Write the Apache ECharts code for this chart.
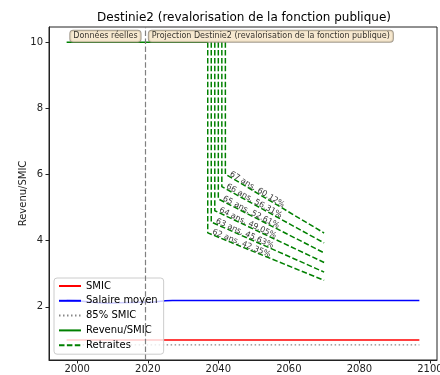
<!DOCTYPE html>
<html>
<head>
<meta charset="utf-8">
<script src="https://cdn.jsdelivr.net/npm/echarts@6/dist/echarts.min.js"></script>
<style>html,body{margin:0;padding:0;background:#fff}#c{width:440px;height:375px}</style>
</head>
<body>
<div id="c"></div>
<script>
// ---- data ----
const xTicks = [2000, 2020, 2040, 2060, 2080, 2100];
const yTicks = [2, 4, 6, 8, 10];
const smicYears = [1997, 2097];
const smicValues = [1, 1];
const smic85Years = [1997, 2097];
const smic85Values = [0.85, 0.85];
const salaireYears = [1997, 2000, 2003, 2006, 2009, 2012, 2015, 2018, 2021, 2023, 2025, 2027, 2097];
const salaireValues = [2.20, 2.18, 2.15, 2.12, 2.11, 2.12, 2.13, 2.14, 2.14, 2.16, 2.18, 2.19, 2.19];
const revenuYears = [1997, 2037];
const revenuValues = [10, 10];
const retAges = [62, 63, 64, 65, 66, 67];
const retYears = [2037, 2038, 2039, 2040, 2041, 2042];
const retPct = ['42.35', '45.63', '49.05', '52.61', '56.31', '60.12'];
const retTopValue = 10;
const retStartValues = [4.235, 4.563, 4.905, 5.261, 5.631, 6.012];
const retEndYear = 2070;
const retEndValues = [2.80, 3.05, 3.34, 3.63, 3.93, 4.23];
const realDataYear = 2019.4;
const boxLabels = ['Données réelles', 'Projection Destinie2 (revalorisation de la fonction publique)'];
const boxYears = [2008, 2054.9];
const boxValue = 10.18;

const FONT = 'DejaVu Sans';
const zip = (xs, ys) => xs.map((x, i) => [x, ys[i]]);

const chart = echarts.init(document.getElementById('c'), null, {renderer: 'canvas'});

function buildOption(rotations) {
  const series = [
    {name: 'SMIC', type: 'line', data: zip(smicYears, smicValues), showSymbol: false, symbol: 'none',
     lineStyle: {color: '#ff0000', width: 1.5}, itemStyle: {color: '#ff0000'}, z: 3},
    {name: 'Salaire moyen', type: 'line', data: zip(salaireYears, salaireValues), showSymbol: false, symbol: 'none',
     lineStyle: {color: '#0000ff', width: 1.5}, itemStyle: {color: '#0000ff'}, z: 3},
    {name: '85% SMIC', type: 'line', data: zip(smic85Years, smic85Values), showSymbol: false, symbol: 'none',
     lineStyle: {color: '#888888', width: 1.2, type: [1.5, 2.5]}, itemStyle: {color: '#888888'}, z: 3},
    {name: 'Revenu/SMIC', type: 'line', data: zip(revenuYears, revenuValues), showSymbol: false, symbol: 'none',
     lineStyle: {color: '#008000', width: 1.5}, itemStyle: {color: '#008000'}, z: 3,
     markLine: {silent: true, symbol: 'none', label: {show: false},
       lineStyle: {color: '#808080', width: 1.2, type: [5.5, 2.4]},
       data: [{xAxis: realDataYear}]}}
  ];
  retAges.forEach((age, i) => {
    series.push({name: 'Retraites', type: 'line', showSymbol: false, symbol: 'none',
      data: [[retYears[i], retTopValue], [retYears[i], retStartValues[i]], [retEndYear, retEndValues[i]]],
      lineStyle: {color: '#008000', width: 1.5, type: [5.5, 2.4]}, itemStyle: {color: '#008000'}, z: 3});
  });
  series.push({name: 'retLabels', type: 'scatter', symbolSize: 0, silent: true, z: 5,
    data: retAges.map((age, i) => ({
      value: [retYears[i], retStartValues[i]],
      label: {show: true, formatter: age + ' ans, ' + retPct[i] + '%', rotate: rotations[i] || 0,
        position: 'inside', align: 'left', verticalAlign: 'bottom', offset: [4, 1],
        fontFamily: FONT, fontSize: 8, color: '#000'}
    }))});
  series.push({name: 'boxes', type: 'scatter', symbolSize: 0, silent: true, z: 6,
    data: boxLabels.map((t, i) => ({
      value: [boxYears[i], boxValue],
      label: {show: true, formatter: t, position: 'inside', align: 'center', verticalAlign: 'middle',
        fontFamily: FONT, fontSize: 8, color: '#000', backgroundColor: '#f5e3c4',
        borderColor: '#8c8272', borderWidth: 1, borderRadius: 3, padding: [2, 3, 1, 3]}
    }))});
  return {
    animation: false,
    backgroundColor: '#fff',
    title: {text: 'Destinie2 (revalorisation de la fonction publique)', left: 239, top: 7, textAlign: 'center',
      textStyle: {fontFamily: FONT, fontSize: 12, fontWeight: 'normal', color: '#000'}},
    grid: {left: 49, right: 3, top: 27, bottom: 15, outerBoundsMode: 'none', containLabel: false,
      show: true, borderColor: '#222', borderWidth: 1},
    legend: {orient: 'vertical', left: 54, top: 278, padding: [3, 6, 4, 4], itemGap: 4.8,
      itemWidth: 22, itemHeight: 10, itemStyle: {opacity: 0},
      backgroundColor: 'rgba(255,255,255,0.8)', borderColor: '#cccccc', borderWidth: 1, borderRadius: 3,
      textStyle: {fontFamily: FONT, fontSize: 10, color: '#000'},
      data: ['SMIC', 'Salaire moyen', '85% SMIC', 'Revenu/SMIC', 'Retraites']},
    xAxis: {type: 'value', min: 1992, max: 2102,
      axisLine: {show: true, onZero: false, lineStyle: {color: '#222'}},
      axisTick: {show: true, length: 3.5, customValues: xTicks, lineStyle: {color: '#222'}},
      axisLabel: {customValues: xTicks, margin: 4, fontFamily: FONT, fontSize: 10, color: '#222',
        formatter: v => String(v)},
      splitLine: {show: false}},
    yAxis: {type: 'value', min: 0.3925, max: 10.4575, name: 'Revenu/SMIC', nameLocation: 'middle', nameGap: 21,
      nameMoveOverlap: false,
      nameTextStyle: {fontFamily: FONT, fontSize: 10, color: '#222'},
      axisLine: {show: true, onZero: false, lineStyle: {color: '#222'}},
      axisTick: {show: true, length: 3.5, customValues: yTicks, lineStyle: {color: '#222'}},
      axisLabel: {customValues: yTicks, margin: 6, fontFamily: FONT, fontSize: 10, color: '#222',
        formatter: v => String(v)},
      splitLine: {show: false}},
    series: series
  };
}

chart.setOption(buildOption([]));
const rots = retAges.map((a, i) => {
  const p0 = chart.convertToPixel({gridIndex: 0}, [retYears[i], retStartValues[i]]);
  const p1 = chart.convertToPixel({gridIndex: 0}, [retEndYear, retEndValues[i]]);
  return -Math.atan2(p1[1] - p0[1], p1[0] - p0[0]) * 180 / Math.PI;
});
chart.setOption(buildOption(rots), true);
</script>
</body>
</html>
